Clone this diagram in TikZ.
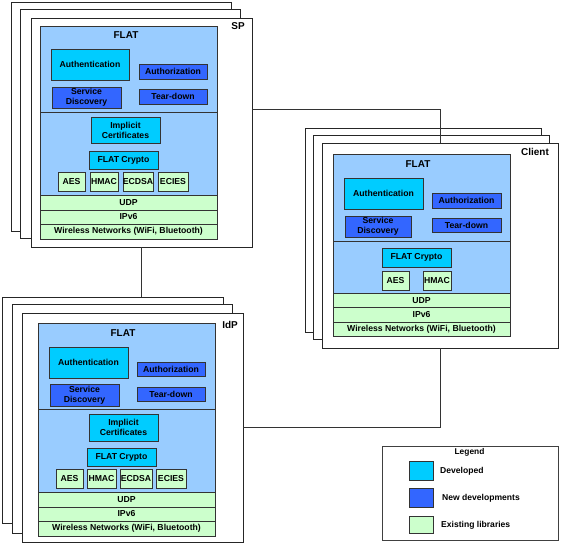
\documentclass[tikz,border=0pt]{standalone}
\usepackage{fontspec}
\setmainfont{Liberation Sans}
\usetikzlibrary{calc}
\definecolor{flatbg}{HTML}{99CCFF}
\definecolor{devc}{HTML}{00CCFF}
\definecolor{newc}{HTML}{3366FF}
\definecolor{libc}{HTML}{CCFFCC}
\definecolor{edgec}{HTML}{333333}
\tikzset{
  page/.style={draw=black!85, line width=0.7pt, fill=white},
  frontpage/.style={page, rectangle, inner sep=0pt},
  flatarea/.style={draw=edgec, line width=0.6pt, fill=flatbg},
  libarea/.style={draw=edgec, line width=0.6pt, fill=libc},
  bx/.style={rectangle, draw=edgec, line width=0.6pt, inner sep=0pt, align=center,
    font=\fontsize{8.7}{10.2}\selectfont\bfseries},
  devbox/.style={bx, fill=devc},
  newbox/.style={bx, fill=newc},
  libbox/.style={bx, fill=libc},
  layertxt/.style={inner sep=0pt, font=\fontsize{8.7}{10.2}\selectfont\bfseries},
  titletxt/.style={inner sep=0pt, font=\fontsize{10}{12}\selectfont\bfseries},
  legtxt/.style={inner sep=0pt, anchor=west, font=\fontsize{8.6}{10}\selectfont\bfseries},
  conn/.style={draw=black!80, line width=0.7pt}
}
\begin{document}
\begin{tikzpicture}[x=1bp,y=-1bp]
\useasboundingbox (0,0) rectangle (580,545);

% ================= SP =================
\draw[page] (11,2) rectangle (231,231);
\draw[page] (20,9) rectangle (240,238);
\node[frontpage, minimum width=221bp, minimum height=229bp] (spfront) at (141.5,132.5) {};
\draw[flatarea] (40,26) rectangle (217,112);
\draw[flatarea] (40,112) rectangle (217,195);
\draw[libarea] (40,195) rectangle (217,210);
\draw[libarea] (40,210) rectangle (217,224);
\draw[libarea] (40,224) rectangle (217,239);
\node[titletxt] (splabel) at (238,26.5) {SP};
\node[titletxt] (spflat) at (126,35.5) {FLAT};
\node[devbox, minimum width=78bp, minimum height=31bp] (spauth) at (90,64.5) {Authentication};
\node[newbox, minimum width=68bp, minimum height=15bp] (spauthz) at (173,71.5) {Authorization};
\node[newbox, minimum width=69bp, minimum height=21bp] (spsd) at (86.5,97.5) {Service\\Discovery};
\node[newbox, minimum width=68bp, minimum height=15bp] (sptd) at (173,96.5) {Tear-down};
\node[devbox, minimum width=69bp, minimum height=26bp] (spimpl) at (125.5,130) {Implicit\\Certificates};
\node[devbox, minimum width=69bp, minimum height=18bp] (spcrypto) at (123.5,160) {FLAT Crypto};
\node[libbox, minimum width=27bp, minimum height=19bp] (spaes) at (71.5,181.5) {AES};
\node[libbox, minimum width=28bp, minimum height=19bp] (sphmac) at (104,181.5) {HMAC};
\node[libbox, minimum width=30bp, minimum height=19bp] (specdsa) at (138,181.5) {ECDSA};
\node[libbox, minimum width=30bp, minimum height=19bp] (species) at (173,181.5) {ECIES};
\node[layertxt] (spudp) at (128.5,202.5) {UDP};
\node[layertxt] (spipv6) at (128.5,217) {IPv6};
\node[layertxt] (spwn) at (128.5,231.5) {Wireless Networks (WiFi, Bluetooth)};

% ================= Client =================
\draw[page] (305,128) rectangle (541,332);
\draw[page] (313,135) rectangle (549,339);
\node[frontpage, minimum width=236bp, minimum height=205bp] (clfront) at (440,245.5) {};
\draw[flatarea] (333,154) rectangle (510,241);
\draw[flatarea] (333,241) rectangle (510,293);
\draw[libarea] (333,293) rectangle (510,307.5);
\draw[libarea] (333,307.5) rectangle (510,322);
\draw[libarea] (333,322) rectangle (510,336);
\node[titletxt] (cllabel) at (535,152) {Client};
\node[titletxt] (clflat) at (418,164) {FLAT};
\node[devbox, minimum width=79bp, minimum height=31bp] (clauth) at (383.5,193.5) {Authentication};
\node[newbox, minimum width=69bp, minimum height=15bp] (clauthz) at (466.5,200.5) {Authorization};
\node[newbox, minimum width=66bp, minimum height=21bp] (clsd) at (378,226.5) {Service\\Discovery};
\node[newbox, minimum width=69bp, minimum height=14bp] (cltd) at (466.5,225) {Tear-down};
\node[devbox, minimum width=69bp, minimum height=19bp] (clcrypto) at (416.5,257.5) {FLAT Crypto};
\node[libbox, minimum width=27bp, minimum height=19bp] (claes) at (395.5,280.5) {AES};
\node[libbox, minimum width=28bp, minimum height=19bp] (clhmac) at (437,280.5) {HMAC};
\node[layertxt] (cludp) at (421.5,300.3) {UDP};
\node[layertxt] (clipv6) at (421.5,314.8) {IPv6};
\node[layertxt] (clwn) at (421.5,329) {Wireless Networks (WiFi, Bluetooth)};

% ================= IdP =================
\draw[page] (2,297) rectangle (223,523);
\draw[page] (12,304) rectangle (232,533);
\node[frontpage, minimum width=221bp, minimum height=229bp] (idpfront) at (132.5,427.5) {};
\draw[flatarea] (38,323) rectangle (215,409);
\draw[flatarea] (38,409) rectangle (215,492);
\draw[libarea] (38,492) rectangle (215,507);
\draw[libarea] (38,507) rectangle (215,521);
\draw[libarea] (38,521) rectangle (215,536);
\node[titletxt] (idplabel) at (230,324.5) {IdP};
\node[titletxt] (idpflat) at (123,333.5) {FLAT};
\node[devbox, minimum width=79bp, minimum height=31bp] (idpauth) at (88.5,362.5) {Authentication};
\node[newbox, minimum width=68bp, minimum height=14bp] (idpauthz) at (171,369) {Authorization};
\node[newbox, minimum width=69bp, minimum height=22bp] (idpsd) at (84.5,395) {Service\\Discovery};
\node[newbox, minimum width=68bp, minimum height=14bp] (idptd) at (171,394) {Tear-down};
\node[devbox, minimum width=69bp, minimum height=27bp] (idpimpl) at (123.5,427.5) {Implicit\\Certificates};
\node[devbox, minimum width=69bp, minimum height=18bp] (idpcrypto) at (121.5,457) {FLAT Crypto};
\node[libbox, minimum width=27bp, minimum height=19bp] (idpaes) at (69.5,478.5) {AES};
\node[libbox, minimum width=29bp, minimum height=19bp] (idphmac) at (101.5,478.5) {HMAC};
\node[libbox, minimum width=32bp, minimum height=19bp] (idpecdsa) at (136,478.5) {ECDSA};
\node[libbox, minimum width=30bp, minimum height=19bp] (idpecies) at (171,478.5) {ECIES};
\node[layertxt] (idpudp) at (126.5,499.5) {UDP};
\node[layertxt] (idpipv6) at (126.5,514) {IPv6};
\node[layertxt] (idpwn) at (126.5,528.5) {Wireless Networks (WiFi, Bluetooth)};
\coordinate (idpbacktop) at (141.5,297);

% ================= Connectors =================
\coordinate (spout) at ($(spfront.north east)+(0,92)$);
\draw[conn] (spout) -| (clfront.north);
\draw[conn] (spfront.south) -- (spfront.south |- idpbacktop);
\draw[conn] (clfront.south) |- (idpfront.east);

% ================= Legend =================
\node[rectangle, draw=black!75, line width=0.6pt, fill=white, minimum width=176bp, minimum height=94bp, inner sep=0pt] (legend) at (470,493) {};
\node[inner sep=0pt, font=\fontsize{8.4}{10}\selectfont\bfseries] (legtitle) at (469.5,452.5) {Legend};
\node[devbox, minimum width=24bp, minimum height=19bp] (legdev) at (421,470.5) {};
\node[newbox, minimum width=24bp, minimum height=19bp] (legnew) at (421,497.5) {};
\node[libbox, minimum width=24bp, minimum height=17bp] (leglib) at (421,524.5) {};
\node[legtxt] (legdevt) at (440,471) {Developed};
\node[legtxt] (legnewt) at (442,498) {New developments};
\node[legtxt] (leglibt) at (441,525) {Existing libraries};
\end{tikzpicture}
\end{document}
